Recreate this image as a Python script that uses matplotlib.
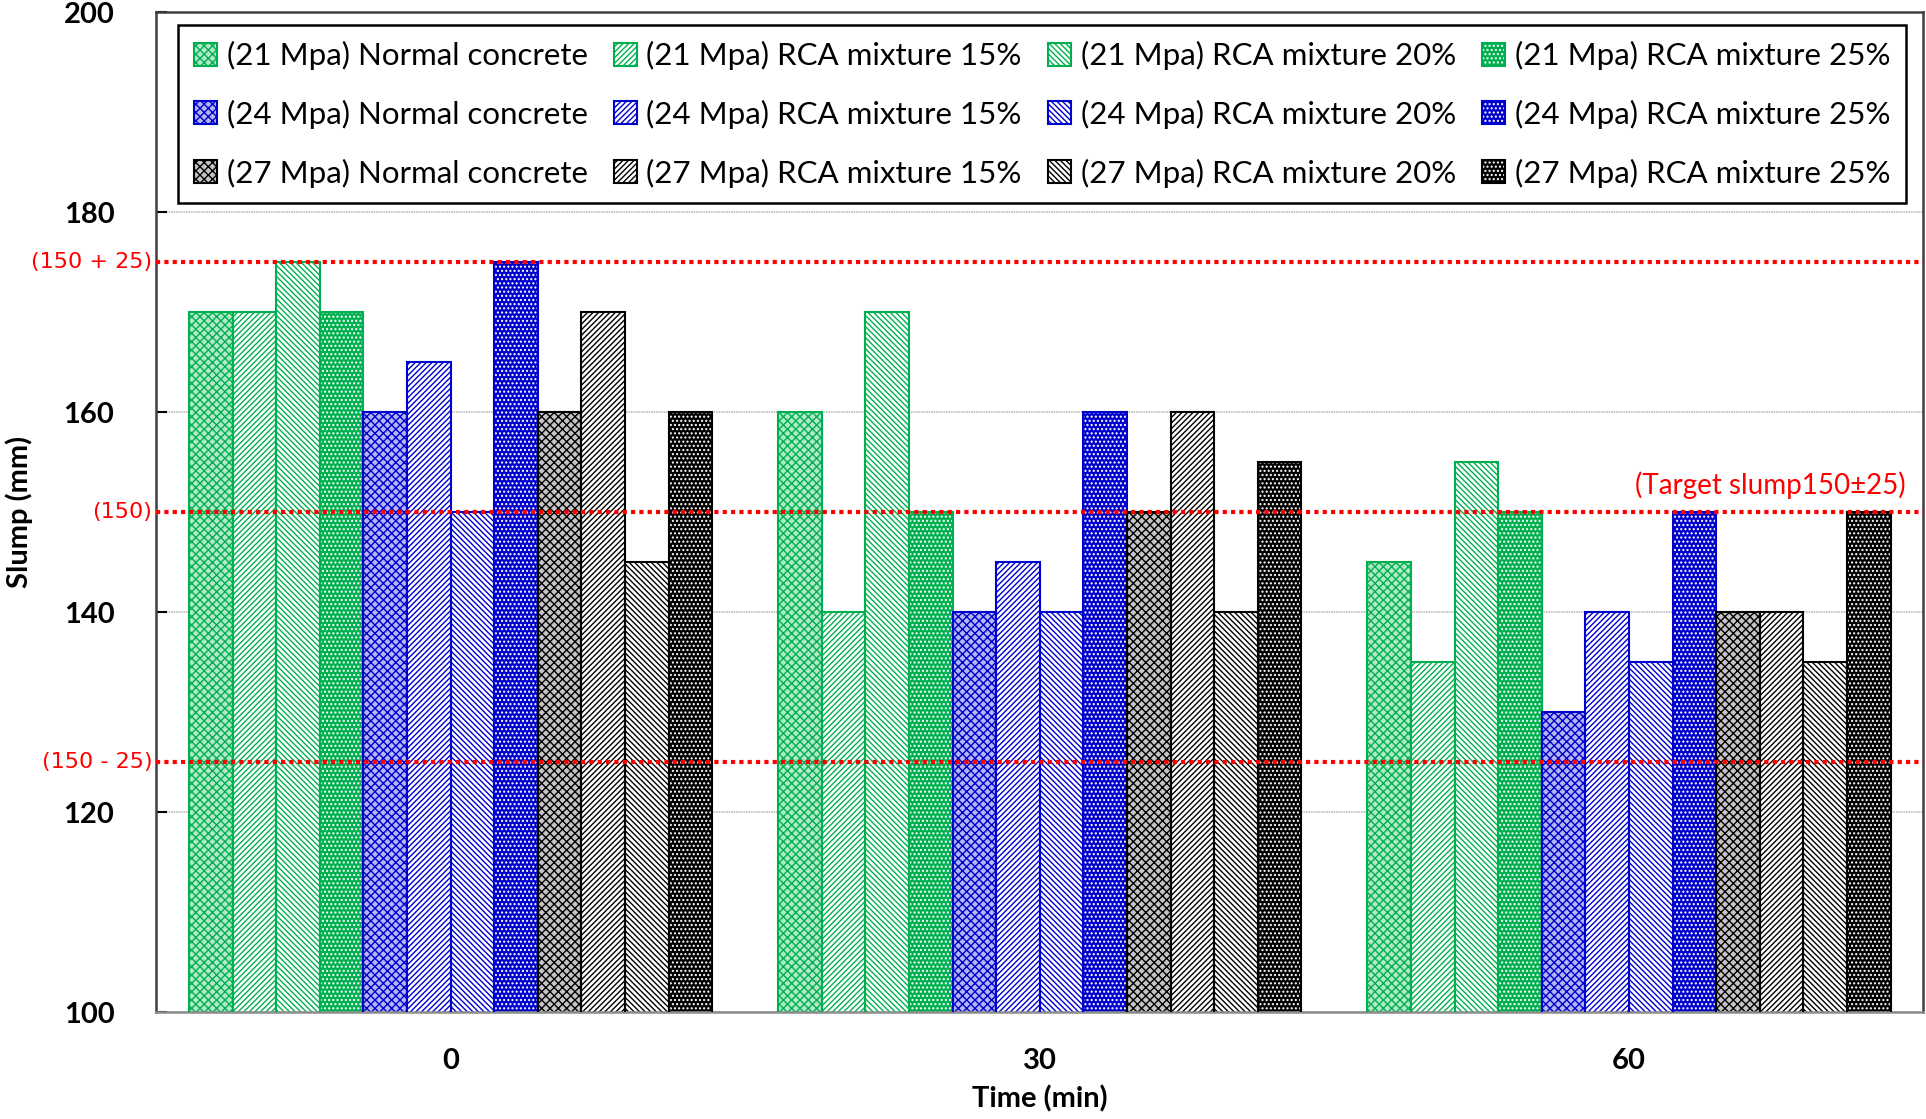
import matplotlib
matplotlib.use("Agg")
import matplotlib.pyplot as plt
import matplotlib.transforms as mtransforms
import numpy as np

# data
times = ["0", "30", "60"]
strengths = ["21", "24", "27"]
mixes = ["Normal concrete", "RCA mixture 15%", "RCA mixture 20%", "RCA mixture 25%"]

slump_21 = {
    "Normal concrete": [170, 160, 145],
    "RCA mixture 15%": [170, 140, 135],
    "RCA mixture 20%": [175, 170, 155],
    "RCA mixture 25%": [170, 150, 150],
}
slump_24 = {
    "Normal concrete": [160, 140, 130],
    "RCA mixture 15%": [165, 145, 140],
    "RCA mixture 20%": [150, 140, 135],
    "RCA mixture 25%": [175, 160, 150],
}
slump_27 = {
    "Normal concrete": [160, 150, 140],
    "RCA mixture 15%": [170, 160, 140],
    "RCA mixture 20%": [145, 140, 135],
    "RCA mixture 25%": [160, 155, 150],
}
target = 150
tolerance = 25

plt.rcParams["font.family"] = ["Lato", "DejaVu Sans"]
plt.rcParams["hatch.linewidth"] = 1.0

main_colors = {"21": "#00b050", "24": "#0000cc", "27": "#000000"}
light_colors = {"21": "#b0e9c8", "24": "#b4b4f2", "27": "#c4c4c4"}

fig = plt.figure(figsize=(19.26, 11.19), dpi=100)
ax = fig.add_axes([0.081, 0.0955, 0.9177, 0.8935])

x = np.arange(len(times))
n_series = len(strengths) * len(mixes)
bar_w = 0.074
offsets = (np.arange(n_series) - (n_series - 1) / 2) * bar_w

handles = []
labels = []
k = 0
for s, data in zip(strengths, [slump_21, slump_24, slump_27]):
    c = main_colors[s]
    for m in mixes:
        vals = data[m]
        if m == "Normal concrete":
            face, hatch, hcol = light_colors[s], "xxxx", c
        elif m == "RCA mixture 15%":
            face, hatch, hcol = "white", "//////", c
        elif m == "RCA mixture 20%":
            face, hatch, hcol = "white", "\\" * 6, c
        else:
            face, hatch, hcol = c, "....", "white"
        with plt.rc_context({"hatch.color": hcol}):
            b1 = ax.bar(x + offsets[k], vals, bar_w, color=face,
                        hatch=hatch, linewidth=0, zorder=2)
        b2 = ax.bar(x + offsets[k], vals, bar_w, fill=False, edgecolor=c,
                    linewidth=1.5, zorder=3)
        handles.append((b1, b2))
        labels.append(f"({s} Mpa) {m}")
        k += 1

# target slump lines
for yv in [target + tolerance, target, target - tolerance]:
    ax.axhline(yv, color="#ff0000", linestyle=(0, (1, 1)), linewidth=3, zorder=4)

trans = mtransforms.blended_transform_factory(ax.transAxes, ax.transData)
red_font = dict(color="#ff0000", fontsize=16, family=["Liberation Sans Narrow", "DejaVu Sans"],
                ha="right", va="center", transform=trans, clip_on=False)
ax.text(-0.002, target + tolerance, f"({target} + {tolerance})", **red_font)
ax.text(-0.002, target, f"({target})", **red_font)
ax.text(-0.002, target - tolerance, f"({target} - {tolerance})", **red_font)
ax.text(0.990, 152.7, f"(Target slump{target}±{tolerance})", color="#ff0000",
        fontsize=20, ha="right", va="center", transform=trans)

ax.set_ylim(100, 200)
ax.set_xlim(-0.5, 2.5)
ax.set_yticks([100, 120, 140, 160, 180, 200])
ax.set_xticks(x)
ax.set_xticklabels(times)
ax.tick_params(axis="y", direction="in", length=8, width=1.5, pad=30, labelsize=21)
ax.tick_params(axis="x", length=0, pad=26, labelsize=21)
for lab in ax.get_xticklabels() + ax.get_yticklabels():
    lab.set_fontweight("bold")
ax.yaxis.grid(True, color="#bdbdbd", linestyle=(0, (1, 0.5)), linewidth=1.2, zorder=0)
ax.set_axisbelow(True)
for sp in ax.spines.values():
    sp.set_color("#404040")
    sp.set_linewidth(1.8)
ax.spines["bottom"].set_color("#8c8c8c")

ax.set_ylabel("Slump (mm)", fontsize=21, fontweight="bold", va="center")
ax.yaxis.set_label_coords(-0.0775, 0.5)
ax.set_xlabel("Time (min)", fontsize=21, fontweight="bold", va="center")
ax.xaxis.set_label_coords(0.5, -0.087)

# legend is filled row by row in the reference
n_rows, n_cols = len(strengths), len(mixes)
order = [r * n_cols + c for c in range(n_cols) for r in range(n_rows)]
leg = ax.legend([handles[i] for i in order], [labels[i] for i in order],
                ncol=n_cols, loc="upper left",
                bbox_to_anchor=(0.0125, 0.987, 0.9775, 0.0), mode="expand",
                borderaxespad=0, fontsize=22.5, frameon=True, fancybox=False,
                edgecolor="black", handlelength=0.75, handleheight=0.75,
                handletextpad=0.3, labelspacing=0.95, borderpad=0.5,
                columnspacing=1.0, framealpha=1)
leg.get_frame().set_linewidth(1.8)
leg.set_zorder(5)

fig.savefig("out.png", dpi=100)
